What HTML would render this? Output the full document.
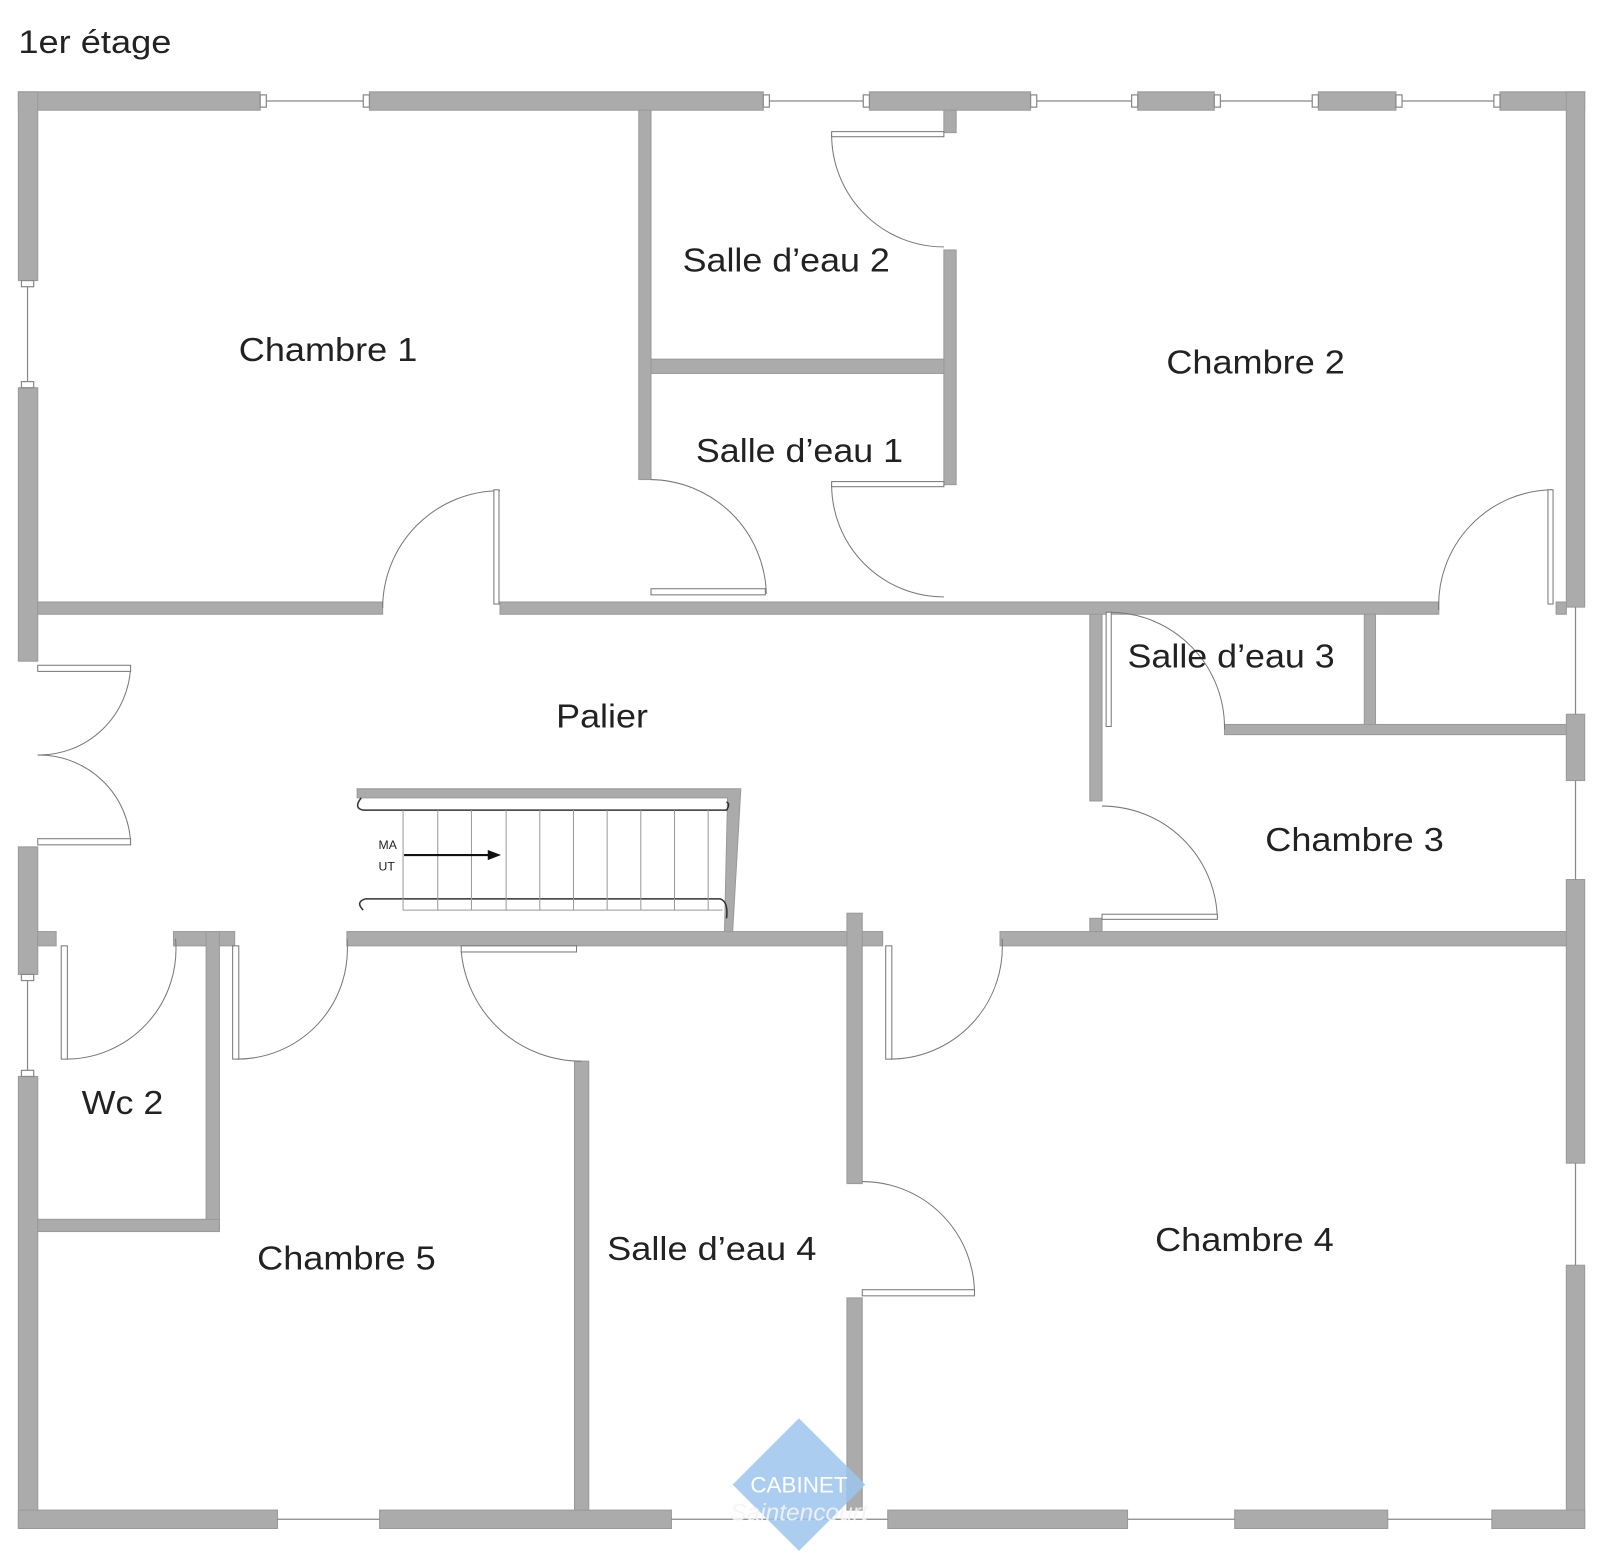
<!DOCTYPE html>
<html><head><meta charset="utf-8"><style>
html,body{margin:0;padding:0;background:#fff;}
svg{display:block;}
text{font-family:"Liberation Sans",sans-serif;fill:#222;}
</style></head><body>
<svg width="1600" height="1555" viewBox="0 0 1568 1524" preserveAspectRatio="none" xmlns="http://www.w3.org/2000/svg">
<rect width="1568" height="1524" fill="#fff"/>
<text x="18" y="52" font-size="32" textLength="150" lengthAdjust="spacingAndGlyphs">1er étage</text>
<g fill="#ababab" stroke="#999" stroke-width="1">
<!-- top wall -->
<rect x="18" y="90" width="237" height="18"/>
<rect x="362" y="90" width="386" height="18"/>
<rect x="852" y="90" width="158" height="18"/>
<rect x="1115" y="90" width="75" height="18"/>
<rect x="1292" y="90" width="76" height="18"/>
<rect x="1470" y="90" width="83" height="18"/>
<!-- left wall -->
<rect x="18" y="90" width="19" height="185"/>
<rect x="18" y="380" width="19" height="268"/>
<rect x="18" y="830" width="19" height="125"/>
<rect x="18" y="1055" width="19" height="443"/>
<!-- right wall -->
<rect x="1535" y="90" width="18" height="505"/>
<rect x="1535" y="700" width="18" height="65"/>
<rect x="1535" y="862" width="18" height="278"/>
<rect x="1535" y="1240" width="18" height="258"/>
<!-- bottom wall -->
<rect x="18" y="1480" width="254" height="18"/>
<rect x="372" y="1480" width="286" height="18"/>
<rect x="870" y="1480" width="235" height="18"/>
<rect x="1210" y="1480" width="150" height="18"/>
<rect x="1462" y="1480" width="91" height="18"/>
<!-- interior -->
<rect x="626" y="108" width="12" height="362"/>
<rect x="925" y="108" width="12" height="22"/>
<rect x="925" y="245" width="12" height="230"/>
<rect x="638" y="352" width="287" height="14"/>
<rect x="37" y="590" width="338" height="12"/>
<rect x="490" y="590" width="920" height="12"/>
<rect x="1525" y="590" width="10" height="12"/>
<rect x="1068" y="602" width="12" height="183"/>
<rect x="1068" y="900" width="12" height="13"/>
<rect x="1337" y="602" width="11" height="110"/>
<rect x="1200" y="710" width="335" height="10"/>
<rect x="37" y="913" width="18" height="14"/>
<rect x="170" y="913" width="60" height="14"/>
<rect x="340" y="913" width="525" height="14"/>
<rect x="980" y="913" width="555" height="14"/>
<rect x="202" y="913" width="13" height="292"/>
<rect x="37" y="1195" width="178" height="12"/>
<rect x="563" y="1040" width="14" height="440"/>
<rect x="830" y="895" width="15" height="265"/>
<rect x="830" y="1272" width="15" height="208"/>
<!-- stairs outer -->
<path d="M350 773 L726 773 L718 913 L710 913 L713 782 L350 782 Z"/>
</g>
<!-- windows -->
<g stroke="#888" stroke-width="1.2" fill="#fff">
<line x1="255" y1="99" x2="362" y2="99"/><line x1="748" y1="99" x2="852" y2="99"/>
<line x1="1010" y1="99" x2="1115" y2="99"/><line x1="1190" y1="99" x2="1292" y2="99"/>
<line x1="1368" y1="99" x2="1470" y2="99"/>
<line x1="272" y1="1489" x2="372" y2="1489"/><line x1="658" y1="1489" x2="870" y2="1489"/>
<line x1="1105" y1="1489" x2="1210" y2="1489"/><line x1="1360" y1="1489" x2="1462" y2="1489"/>
<line x1="27" y1="275" x2="27" y2="380"/><line x1="27" y1="955" x2="27" y2="1055"/>
<line x1="1544" y1="595" x2="1544" y2="700"/><line x1="1544" y1="765" x2="1544" y2="862"/>
<line x1="1544" y1="1140" x2="1544" y2="1240"/>
<rect x="255" y="93" width="6" height="12"/><rect x="356" y="93" width="6" height="12"/>
<rect x="748" y="93" width="6" height="12"/><rect x="846" y="93" width="6" height="12"/>
<rect x="1010" y="93" width="6" height="12"/><rect x="1109" y="93" width="6" height="12"/>
<rect x="1190" y="93" width="6" height="12"/><rect x="1286" y="93" width="6" height="12"/>
<rect x="1368" y="93" width="6" height="12"/><rect x="1464" y="93" width="6" height="12"/>
<rect x="21" y="275" width="12" height="6"/><rect x="21" y="374" width="12" height="6"/>
<rect x="21" y="955" width="12" height="6"/><rect x="21" y="1049" width="12" height="6"/>
</g>
<!-- doors -->
<g stroke="#777" stroke-width="1" fill="none">
<path d="M490 481 A115 115 0 0 0 375 596"/>
<path d="M638 470 A115 115 0 0 1 751 582"/>
<path d="M815 475 A110 110 0 0 0 925 585"/>
<path d="M815 132 A110 110 0 0 0 925 242"/>
<path d="M1521 480 A113 113 0 0 0 1410 598"/>
<path d="M1088 600 A113 113 0 0 1 1200 715"/>
<path d="M1080 790 A113 113 0 0 1 1193 900"/>
<path d="M128 652 A90 90 0 0 1 37 740"/>
<path d="M37 740 A90 90 0 0 1 128 827"/>
<path d="M172 920 A108 108 0 0 1 64 1038"/>
<path d="M340 920 A108 108 0 0 1 232 1038"/>
<path d="M452 932 A118 118 0 0 0 570 1040"/>
<path d="M982 920 A110 110 0 0 1 872 1038"/>
<path d="M845 1158 A110 110 0 0 1 955 1268"/>
</g>
<g stroke="#777" stroke-width="1" fill="#fff">
<rect x="484" y="480" width="5" height="112"/>
<rect x="638" y="577" width="112" height="6"/>
<rect x="815" y="472" width="110" height="5"/>
<rect x="815" y="129" width="110" height="5"/>
<rect x="1517" y="480" width="5" height="112"/>
<rect x="1084" y="600" width="5" height="112"/>
<rect x="1080" y="896" width="113" height="5"/>
<rect x="37" y="652" width="91" height="6"/>
<rect x="37" y="822" width="91" height="6"/>
<rect x="60" y="927" width="6" height="111"/>
<rect x="228" y="927" width="6" height="111"/>
<rect x="452" y="927" width="113" height="6"/>
<rect x="868" y="927" width="6" height="111"/>
<rect x="845" y="1264" width="110" height="6"/>
</g>
<!-- stair details -->
<g stroke="#333" stroke-width="1.5" fill="none">
<path d="M354 782 Q346 792 356 794 L712 794 Q716 788 712 786"/>
<path d="M356 892 Q348 884 358 881 L706 881 Q714 884 712 900"/>
</g>
<g stroke="#999" stroke-width="1">
<line x1="395" y1="794" x2="395" y2="892"/><line x1="429" y1="794" x2="429" y2="892"/>
<line x1="462" y1="794" x2="462" y2="892"/><line x1="496" y1="794" x2="496" y2="892"/>
<line x1="529" y1="794" x2="529" y2="892"/><line x1="562" y1="794" x2="562" y2="892"/>
<line x1="595" y1="794" x2="595" y2="892"/><line x1="628" y1="794" x2="628" y2="892"/>
<line x1="661" y1="794" x2="661" y2="892"/><line x1="694" y1="794" x2="694" y2="892"/>
<line x1="395" y1="892" x2="708" y2="892"/>
</g>
<line x1="396" y1="838" x2="480" y2="838" stroke="#111" stroke-width="2"/>
<polygon points="478,833 491,838 478,843" fill="#111"/>
<text x="371" y="832" font-size="12">MA</text>
<text x="371" y="853" font-size="12">UT</text>
<!-- labels -->
<g font-size="33">
<text x="234" y="354" textLength="175" lengthAdjust="spacingAndGlyphs">Chambre 1</text>
<text x="669" y="266" textLength="203" lengthAdjust="spacingAndGlyphs">Salle d’eau 2</text>
<text x="682" y="453" textLength="203" lengthAdjust="spacingAndGlyphs">Salle d’eau 1</text>
<text x="1143" y="366" textLength="175" lengthAdjust="spacingAndGlyphs">Chambre 2</text>
<text x="1105" y="654" textLength="203" lengthAdjust="spacingAndGlyphs">Salle d’eau 3</text>
<text x="545" y="713" textLength="90" lengthAdjust="spacingAndGlyphs">Palier</text>
<text x="1240" y="834" textLength="175" lengthAdjust="spacingAndGlyphs">Chambre 3</text>
<text x="80" y="1092" textLength="80" lengthAdjust="spacingAndGlyphs">Wc 2</text>
<text x="252" y="1244" textLength="175" lengthAdjust="spacingAndGlyphs">Chambre 5</text>
<text x="595" y="1235" textLength="205" lengthAdjust="spacingAndGlyphs">Salle d’eau 4</text>
<text x="1132" y="1226" textLength="175" lengthAdjust="spacingAndGlyphs">Chambre 4</text>
</g>
<!-- logo -->
<polygon points="783,1390 848,1455 783,1520 718,1455" fill="#9cc4ec" opacity="0.85"/>
<text x="783" y="1463" font-family="Liberation Serif,serif" font-size="22" fill="#fff" text-anchor="middle" style="fill:#fff">CABINET</text>
<text x="783" y="1490" font-family="Liberation Serif,serif" font-style="italic" font-size="24" text-anchor="middle" style="fill:#f4f4f4" opacity="0.9">Saintencourt</text>
</svg>
</body></html>
